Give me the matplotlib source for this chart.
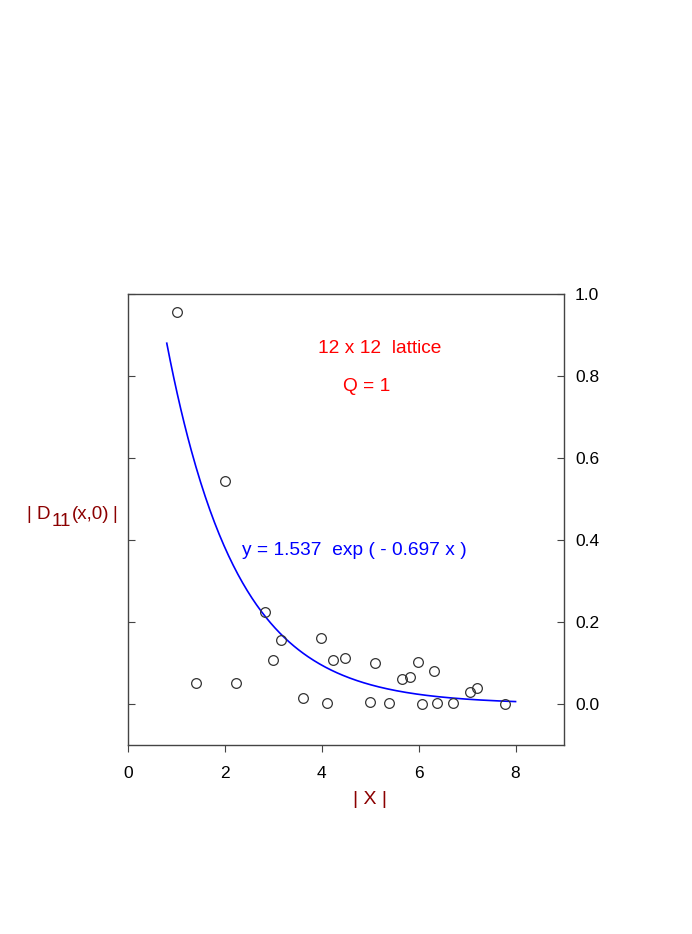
import numpy as np
import matplotlib
matplotlib.use("Agg")
import matplotlib.pyplot as plt
from matplotlib.transforms import offset_copy

plt.rcParams['font.family'] = ['Liberation Sans', 'DejaVu Sans']

# data points |x| and |D11(x,0)|
x_pts = [1.01, 2.00, 1.41, 2.23, 2.82, 3.15, 3.00, 3.61, 3.99, 4.11, 4.23, 4.47,
         5.09, 4.99, 5.38, 5.65, 5.82, 5.99, 6.07, 6.32, 6.38, 6.71, 7.06, 7.20, 7.79]
y_pts = [0.955, 0.544, 0.051, 0.052, 0.225, 0.156, 0.107, 0.015, 0.161, 0.002, 0.107, 0.112,
         0.100, 0.006, 0.002, 0.062, 0.065, 0.102, 0.001, 0.080, 0.002, 0.002, 0.029, 0.040, 0.001]

# fit parameters
fit_a = 1.537
fit_b = 0.697
fit_xrange = [0.8, 8.0]

x_ticks = [0, 2, 4, 6, 8]
y_ticks = [0.0, 0.2, 0.4, 0.6, 0.8, 1.0]

fig = plt.figure(figsize=(6.92, 9.34), dpi=100)
ax = fig.add_axes([0.185, 0.2024, 0.630, 0.4828])

xf = np.linspace(fit_xrange[0], fit_xrange[1], 300)
ax.plot(xf, fit_a * np.exp(-fit_b * xf), color='#0000FF', lw=1.2, zorder=2)
ax.plot(x_pts, y_pts, 'o', ms=7, mfc='none', mec='#333333', mew=0.9, zorder=3)

ax.set_xlim(0, 9)
ax.set_ylim(-0.1, 1.0)
ax.set_xticks(x_ticks)
ax.set_yticks(y_ticks)
ax.set_yticklabels(['%.1f' % v for v in y_ticks])

for s in ax.spines.values():
    s.set_color('#444444')
    s.set_linewidth(1.0)

ax.tick_params(axis='x', direction='out', length=5, color='#444444', labelsize=12.5, pad=10, top=False)
ax.tick_params(axis='y', direction='in', length=5, color='#444444', labelsize=12.5,
               left=True, right=True, labelleft=False, labelright=True, pad=8)

dark_red = '#8B0000'
# y-label built from pieces so the subscript is full size
fig.canvas.draw()
renderer = fig.canvas.get_renderer()
lab_fs = 13.5
H = fig.bbox.height
xpix = 27.0
base_pix = H - 519.0
parts = [('| D', 0.0, 1.0), ('11', -7.5, 1.0), ('(x,0)', 0.0, 3.0), ('|', 0.0, 0.0)]
for txt, dy, gap in parts:
    t = fig.text(0, 0, txt, color=dark_red, fontsize=lab_fs, ha='left', va='baseline',
                 transform=offset_copy(fig.transFigure, fig=fig, x=xpix, y=base_pix + dy,
                                       units='dots'))
    xpix += t.get_window_extent(renderer).width + gap
fig.text(370 / 692, 1 - 800 / 934, '| X |', color=dark_red, fontsize=14, ha='center', va='center')

ax.text(5.2, 0.868, '12 x 12  lattice', color='#FF0000', fontsize=13.8, ha='center', va='center')
ax.text(4.93, 0.774, 'Q = 1', color='#FF0000', fontsize=13.8, ha='center', va='center')
ax.text(4.68, 0.375, 'y = 1.537  exp ( - 0.697 x )', color='#0000FF', fontsize=13.8,
        ha='center', va='center')

fig.savefig('out.png', dpi=100)
